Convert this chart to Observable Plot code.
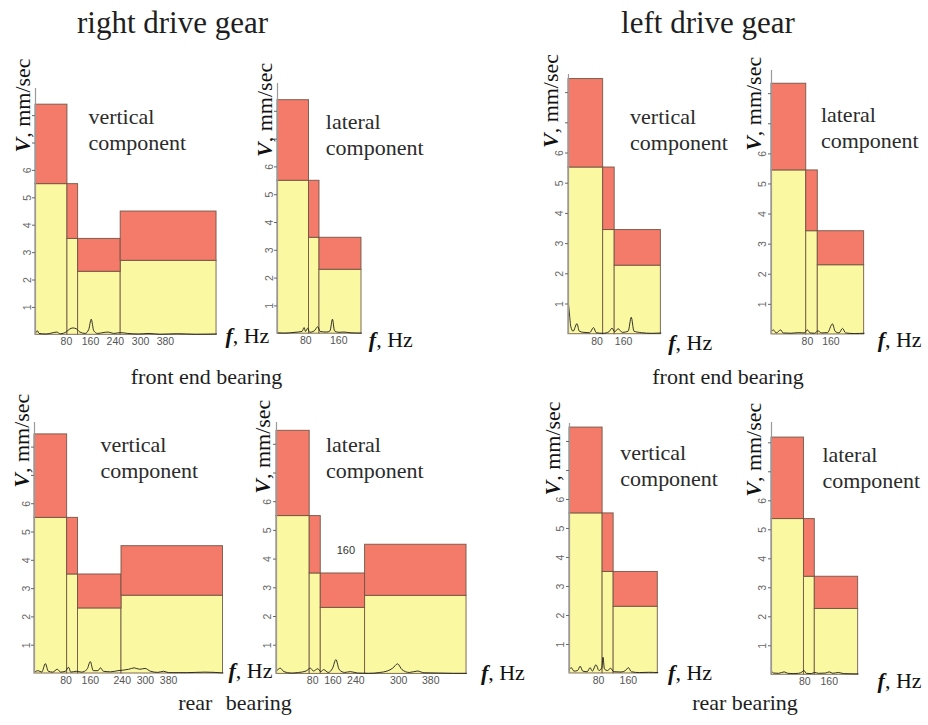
<!DOCTYPE html>
<html><head><meta charset="utf-8">
<script src="https://cdn.jsdelivr.net/npm/d3@7"></script>
<script src="https://cdn.jsdelivr.net/npm/@observablehq/plot@0.6"></script>
<style>
html,body{margin:0;padding:0;background:#fff;}
#fig{position:relative;width:928px;height:725px;overflow:hidden;background:#fff;}
.lbl{position:absolute;white-space:nowrap;line-height:1;font-family:"Liberation Serif",serif;color:#1e1e1e;transform:translateX(-50%);}
</style></head><body><div id="fig"></div>
<script>
// ---------------- texts ----------------
const gearTitles = ["right drive gear", "left drive gear"];
const bearingCaptions = ["front end bearing", "front end bearing", "rear bearing", "rear bearing"];
const componentNames = ["vertical\ncomponent", "lateral\ncomponent"];
const yAxisLabel = "V, mm/sec";
const xAxisLabel = "f, Hz";
const yTicks = [1, 2, 3, 4, 5, 6, 7, 8];
const yTickLabelMax = 6;

// ---------------- right drive gear, front end bearing, vertical (A) ----------------
const edgesA = [0, 90, 120, 240, 510];
const upperA = [8.4, 5.5, 3.5, 4.5];
const lowerA = [5.5, 3.5, 2.3, 2.7];
const tickPosA = [87, 155, 225, 296, 366];
const tickLblA = ["80", "160", "240", "300", "380"];
const specA = [[0,0.05],[5,0.15],[10,0.05],[30,0.03],[50,0.08],[60,0.1],[70,0.04],[88,0.12],[95,0.2],[105,0.25],[115,0.22],[125,0.1],[140,0.05],[150,0.2],[157,0.57],[164,0.15],[175,0.05],[190,0.08],[205,0.1],[220,0.05],[240,0.08],[260,0.05],[290,0.03],[320,0.05],[350,0.02],[400,0.04],[450,0.02],[510,0.03]];

// ---------------- right drive gear, front end bearing, lateral (B) ----------------
const edgesB = [0, 90, 120, 240];
const upperB = [8.4, 5.5, 3.45];
const lowerB = [5.5, 3.45, 2.3];
const tickPosB = [81, 175];
const tickLblB = ["80", "160"];
const specB = [[0,0.03],[20,0.02],[50,0.05],[70,0.08],[76,0.22],[80,0.08],[86,0.2],[92,0.05],[105,0.1],[115,0.25],[122,0.08],[140,0.06],[150,0.1],[157,0.52],[163,0.1],[175,0.05],[190,0.06],[210,0.03],[240,0.02]];

// ---------------- right drive gear, rear bearing, vertical (C) ----------------
const edgesC = [0, 90, 120, 240, 520];
const upperC = [8.45, 5.5, 3.5, 4.5];
const lowerC = [5.5, 3.5, 2.3, 2.75];
const tickPosC = [87, 154, 242, 306, 370];
const tickLblC = ["80", "160", "240", "300", "380"];
const specC = [[0,0.05],[10,0.1],[20,0.05],[30,0.35],[38,0.08],[50,0.05],[63,0.15],[72,0.05],[85,0.08],[94,0.22],[100,0.05],[115,0.08],[130,0.05],[145,0.15],[154,0.42],[162,0.1],[175,0.1],[182,0.2],[190,0.08],[210,0.06],[230,0.1],[245,0.12],[260,0.15],[275,0.2],[290,0.15],[305,0.18],[320,0.08],[340,0.04],[356,0.08],[370,0.03],[420,0.03],[470,0.05],[520,0.02]];

// ---------------- right drive gear, rear bearing, lateral (D) ----------------
const edgesD = [0, 90, 120, 240, 515];
const upperD = [8.47, 5.5, 3.5, 4.5];
const lowerD = [5.5, 3.5, 2.3, 2.72];
const tickPosD = [98, 153, 215, 331, 418];
const tickLblD = ["80", "160", "240", "300", "380"];
const specD = [[0,0.1],[10,0.2],[20,0.08],[40,0.03],[60,0.05],[80,0.1],[92,0.2],[100,0.1],[112,0.18],[120,0.08],[128,0.15],[140,0.05],[152,0.2],[161,0.5],[170,0.15],[185,0.05],[200,0.08],[220,0.03],[250,0.02],[280,0.05],[300,0.1],[315,0.2],[328,0.35],[340,0.15],[360,0.05],[382,0.1],[400,0.04],[440,0.03],[480,0.02],[515,0.02]];
const extraLblD = "160";

// ---------------- left drive gear, front end bearing, vertical (E) ----------------
const edgesE = [0, 90, 120, 240];
const upperE = [8.45, 5.52, 3.45];
const lowerE = [5.52, 3.45, 2.27];
const tickPosE = [74, 143];
const tickLblE = ["80", "160"];
const specE = [[0,1.0],[3,0.6],[6,0.25],[12,0.1],[22,0.35],[28,0.1],[40,0.06],[55,0.05],[65,0.22],[72,0.05],[90,0.03],[105,0.08],[113,0.2],[120,0.08],[129,0.18],[140,0.06],[155,0.1],[163,0.56],[170,0.1],[190,0.05],[215,0.03],[240,0.04]];

// ---------------- left drive gear, front end bearing, lateral (F) ----------------
const edgesF = [0, 90, 120, 240];
const upperF = [8.33, 5.45, 3.43];
const lowerF = [5.45, 3.43, 2.3];
const tickPosF = [93, 154];
const tickLblF = ["80", "160"];
const specF = [[0,0.1],[5,0.15],[12,0.05],[24,0.15],[30,0.05],[50,0.04],[70,0.06],[85,0.05],[93,0.15],[100,0.05],[112,0.04],[120,0.12],[130,0.05],[145,0.06],[158,0.35],[165,0.1],[175,0.05],[184,0.2],[192,0.05],[215,0.03],[240,0.04]];

// ---------------- left drive gear, rear bearing, vertical (G) ----------------
const edgesG = [0, 90, 120, 240];
const upperG = [8.48, 5.52, 3.5];
const lowerG = [5.52, 3.5, 2.3];
const tickPosG = [79, 160];
const tickLblG = ["80", "160"];
const specG = [[0,0.15],[5,0.2],[12,0.08],[22,0.1],[29,0.25],[36,0.08],[48,0.06],[56,0.2],[62,0.08],[72,0.3],[80,0.1],[88,0.2],[91,0.56],[95,0.15],[103,0.1],[112,0.18],[120,0.06],[140,0.05],[152,0.1],[160,0.2],[168,0.06],[190,0.03],[215,0.04],[240,0.03]];

// ---------------- left drive gear, rear bearing, lateral (H) ----------------
const edgesH = [0, 90, 120, 240];
const upperH = [8.18, 5.37, 3.38];
const lowerH = [5.37, 3.38, 2.27];
const tickPosH = [92, 160];
const tickLblH = ["80", "160"];
const specH = [[0,0.12],[6,0.06],[20,0.05],[35,0.1],[45,0.05],[60,0.04],[75,0.05],[85,0.1],[90,0.15],[96,0.05],[110,0.04],[120,0.08],[130,0.05],[150,0.06],[160,0.1],[170,0.05],[185,0.08],[200,0.04],[240,0.03]];

// ---------------- layout (positions / sizes, kept apart from data) ----------------
const panels = [
  {edges: edgesA, upper: upperA, lower: lowerA, tickPos: tickPosA, tickLbl: tickLblA, spec: specA, comp: 0,
   axisX: 35, zeroY: 334.4, ppu: 27.4, kx: 0.355, yTop: 8.99, compAt: [149, 8.37], fx: 535, fdy: 8, vdx: -6, vdy: -18},
  {edges: edgesB, upper: upperB, lower: lowerB, tickPos: tickPosB, tickLbl: tickLblB, spec: specB, comp: 1,
   axisX: 276.7, zeroY: 333.5, ppu: 27.8, kx: 0.35, yTop: 9.0, compAt: [138, 8.04], fx: 261, fdy: 13, vdx: -6, vdy: -10},
  {edges: edgesC, upper: upperC, lower: lowerC, tickPos: tickPosC, tickLbl: tickLblC, spec: specC, comp: 0,
   axisX: 34, zeroY: 672.6, ppu: 28.3, kx: 0.3625, yTop: 8.87, compAt: [182, 8.47], fx: 535, fdy: 4, vdx: -6, vdy: -16},
  {edges: edgesD, upper: upperD, lower: lowerD, tickPos: tickPosD, tickLbl: tickLblD, spec: specD, comp: 1,
   axisX: 275.7, zeroY: 673, ppu: 28.7, kx: 0.369, yTop: 8.76, compAt: [134, 8.36], fx: 554, fdy: 6, vdx: -6, vdy: -8,
   extra: {text: extraLblD, at: [188, 4.29]}},
  {edges: edgesE, upper: upperE, lower: lowerE, tickPos: tickPosE, tickLbl: tickLblE, spec: specE, comp: 0,
   axisX: 568.3, zeroY: 333.5, ppu: 30.2, kx: 0.385, yTop: 8.6, compAt: [160, 7.57], fx: 259, fdy: 16, vdx: -10, vdy: -5},
  {edges: edgesF, upper: upperF, lower: lowerF, tickPos: tickPosF, tickLbl: tickLblF, spec: specF, comp: 1,
   axisX: 770.7, zeroY: 334, ppu: 30.1, kx: 0.386, yTop: 8.77, compAt: [128, 7.66], fx: 275, fdy: 13, vdx: -10, vdy: -3},
  {edges: edgesG, upper: upperG, lower: lowerG, tickPos: tickPosG, tickLbl: tickLblG, spec: specG, comp: 0,
   axisX: 569.3, zeroY: 673.3, ppu: 29, kx: 0.368, yTop: 8.62, compAt: [138, 7.99], fx: 268, fdy: 7, vdx: -10, vdy: -4},
  {edges: edgesH, upper: upperH, lower: lowerH, tickPos: tickPosH, tickLbl: tickLblH, spec: specH, comp: 1,
   axisX: 770.7, zeroY: 674, ppu: 29, kx: 0.361, yTop: 8.7, compAt: [141, 7.96], fx: 294, fdy: 13, vdx: -10, vdy: -4}
];

const RED = "#f47a6a", YELLOW = "#fbf8a2", EDGE = "#6b5242";
const ML = 50, MR = 30, MT = 20, MB = 25;
const fig = document.getElementById("fig");

// titles and captions (HTML text)
function addLabel(text, cx, baseline, size, wordSpacing) {
  const d = document.createElement("div");
  d.className = "lbl";
  d.textContent = text;
  d.style.fontSize = size + "px";
  d.style.left = cx + "px";
  d.style.top = (baseline - 0.8375 * size) + "px";
  if (wordSpacing) d.style.wordSpacing = wordSpacing + "px";
  fig.appendChild(d);
}
addLabel(gearTitles[0], 172.5, 33, 31);
addLabel(gearTitles[1], 708, 33, 31);
addLabel(bearingCaptions[0], 206.5, 384, 22);
addLabel(bearingCaptions[1], 728, 384, 22);
addLabel(bearingCaptions[2], 235, 710, 22, 8);
addLabel(bearingCaptions[3], 745, 710, 22);

function drawPanel(p) {
  const xmax = p.edges[p.edges.length - 1];
  const innerW = xmax * p.kx, innerH = p.yTop * p.ppu;
  const bands = p.upper.map((u, i) => ({x1: p.edges[i], x2: p.edges[i + 1], lower: p.lower[i], upper: u}));
  const tickText = new Map(p.tickPos.map((t, i) => [t, p.tickLbl[i]]));
  const marks = [
    Plot.rect(bands, {x1: "x1", x2: "x2", y1: 0, y2: "lower", fill: YELLOW, stroke: EDGE, strokeWidth: 1, strokeOpacity: 0.85}),
    Plot.rect(bands, {x1: "x1", x2: "x2", y1: "lower", y2: "upper", fill: RED, stroke: EDGE, strokeWidth: 1, strokeOpacity: 0.85}),
    Plot.line(p.spec, {x: d => d[0], y: d => d[1], stroke: "#1c1c1c", strokeWidth: 0.9, curve: "monotone-x"}),
    Plot.ruleX([0], {y1: 0, y2: p.yTop, stroke: "#9a9a9a", strokeWidth: 1.2}),
    Plot.axisY(yTicks, {anchor: "left", tickSize: 3, tickPadding: 2, tickRotate: -90,
      tickFormat: d => d <= yTickLabelMax ? String(d) : "", color: "#666", fontSize: 10.5, fontFamily: "Liberation Sans"}),
    Plot.axisX(p.tickPos, {anchor: "bottom", tickSize: 0, tickPadding: 3,
      tickFormat: d => tickText.get(d), color: "#555", fontSize: 10.5, fontFamily: "Liberation Sans"}),
    Plot.text([componentNames[p.comp]], {x: p.compAt[0], y: p.compAt[1], text: d => d, textAnchor: "start", lineAnchor: "top",
      fontSize: 22, lineHeight: 1.18, fontFamily: "Liberation Serif", fill: "#2b2b2b"}),
    Plot.text([xAxisLabel], {x: p.fx, y: 0, dy: p.fdy, text: d => d, textAnchor: "start", lineAnchor: "bottom",
      fontSize: 22, fontFamily: "Liberation Serif", fill: "#111"}),
    Plot.text([yAxisLabel], {x: 0, y: 6, dx: p.vdx, dy: p.vdy, text: d => d, rotate: -90, textAnchor: "start", lineAnchor: "bottom",
      fontSize: 22, fontFamily: "Liberation Serif", fill: "#111"})
  ];
  if (p.extra) {
    marks.push(Plot.text([p.extra.text], {x: p.extra.at[0], y: p.extra.at[1], text: d => d, fontSize: 11, fontFamily: "Liberation Sans", fill: "#333"}));
  }
  const svg = Plot.plot({
    width: ML + innerW + MR, height: MT + innerH + MB,
    marginLeft: ML, marginRight: MR, marginTop: MT, marginBottom: MB,
    x: {domain: [0, xmax]},
    y: {domain: [0, p.yTop]},
    style: {background: "transparent", overflow: "visible", maxWidth: "none"},
    marks
  });
  // mixed styling: bold italic symbol + regular unit text
  d3.select(svg).selectAll("text").each(function () {
    const t = this.textContent;
    if (t === yAxisLabel || t === xAxisLabel) {
      const sym = t.charAt(0), rest = t.slice(1);
      this.textContent = "";
      d3.select(this).append("tspan").attr("font-weight", "bold").attr("font-style", "italic").text(sym);
      d3.select(this).append("tspan").text(rest);
    }
  });
  svg.style.position = "absolute";
  svg.style.left = (p.axisX - ML) + "px";
  svg.style.top = (p.zeroY - innerH - MT) + "px";
  fig.appendChild(svg);
}
panels.forEach(drawPanel);
</script>
</body></html>
